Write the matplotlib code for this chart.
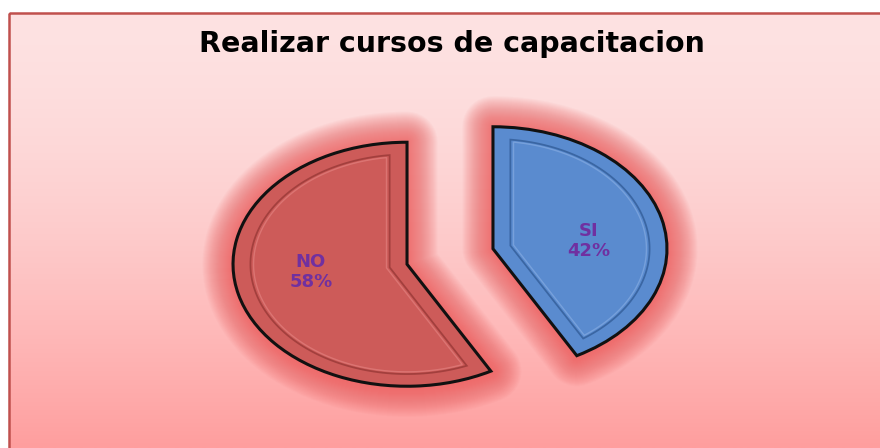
import numpy as np
import matplotlib
matplotlib.use('Agg')
import matplotlib.pyplot as plt
from matplotlib.patches import Rectangle, Polygon

# ---- data ----
categories = ['SI', 'NO']
values = [42, 58]
title = 'Realizar cursos de capacitacion'

# ---- style ----
colors = ['#5a8bcf', '#cd5b59']
inner_dark = ['#35609c', '#9c3b39']
inner_light = ['#8fb3e6', '#e88a88']
label_color = '#7030a0'
explode = [0.255, 0.255]

W, H = 880, 448
fig = plt.figure(figsize=(W / 100, H / 100), dpi=100, facecolor='white')

# background gradient panel
bg = fig.add_axes([0, 0, 1, 1])
bg.set_axis_off()
ys = np.linspace(0, 1, 300)[:, None]
top = np.array([253, 226, 226]) / 255
bot = np.array([255, 158, 158]) / 255
img = top + (bot - top) * (ys ** 1.6)[..., None]
bg.imshow(img, extent=[9, 880, 448, 13], aspect='auto', interpolation='bilinear')
bg.add_patch(Rectangle((9, 13), 900, 460, fill=False, edgecolor='#c0504d', lw=1.8))
bg.set_xlim(0, W)
bg.set_ylim(H, 0)

ax = fig.add_axes([0, 0, 1, 1])
ax.patch.set_visible(False)

# soft glow around the slices
for lw in np.linspace(44, 2, 30):
    ax.pie(values, explode=explode, startangle=90, counterclock=False,
           wedgeprops=dict(facecolor='none', edgecolor='#ee5858', linewidth=lw,
                           alpha=0.04, joinstyle='round'))

lab_iter = iter(categories)


def fmt(p):
    return f"{next(lab_iter)}\n{p:.0f}%"


wedges, _, autotexts = ax.pie(
    values, explode=explode, colors=colors, startangle=90, counterclock=False,
    wedgeprops=dict(edgecolor='#111111', linewidth=2.2, joinstyle='miter'),
    autopct=fmt, pctdistance=0.57,
    textprops=dict(color=label_color, fontsize=13, fontweight='bold',
                   family='DejaVu Sans', linespacing=1.15))

# pull labels closer to the horizontal through each slice apex
for w, t in zip(wedges, autotexts):
    x, y = t.get_position()
    cy = w.center[1]
    t.set_position((x, cy + (y - cy) * 0.45))

# bevel: inset contour of each wedge
inset = 0.1
for w, cd, cl in zip(wedges, inner_dark, inner_light):
    cx, cy = w.center
    r = w.r
    t1, t2 = np.deg2rad(w.theta1), np.deg2rad(w.theta2)
    tm = 0.5 * (t1 + t2)
    half = 0.5 * (t2 - t1)
    for d, col, lw, a in [(inset, cd, 1.3, 0.85), (inset + 0.018, cl, 1.0, 0.55)]:
        s = d / np.sin(half)
        rr = r - d
        delta = np.arcsin(d / rr)
        angs = np.linspace(t1 + delta, t2 - delta, 120)
        pts = np.column_stack([cx + rr * np.cos(angs), cy + rr * np.sin(angs)])
        apex = np.array([[cx + s * np.cos(tm), cy + s * np.sin(tm)]])
        pts = np.vstack([apex, pts])
        ax.add_patch(Polygon(pts, closed=True, fill=False, edgecolor=col,
                             lw=lw, alpha=a, joinstyle='miter'))

ax.set_aspect('auto')
ax.set_xlim(-450 / 174, (W - 450) / 174)
ax.set_ylim(-(H - 256.5) / 122, 256.5 / 122)
ax.set_axis_off()

fig.text(452 / W, 1 - 52 / H, title, ha='center', va='baseline',
         fontsize=20.5, fontweight='bold', family='DejaVu Sans', color='black')

fig.savefig('out.png', dpi=100, facecolor='white')
